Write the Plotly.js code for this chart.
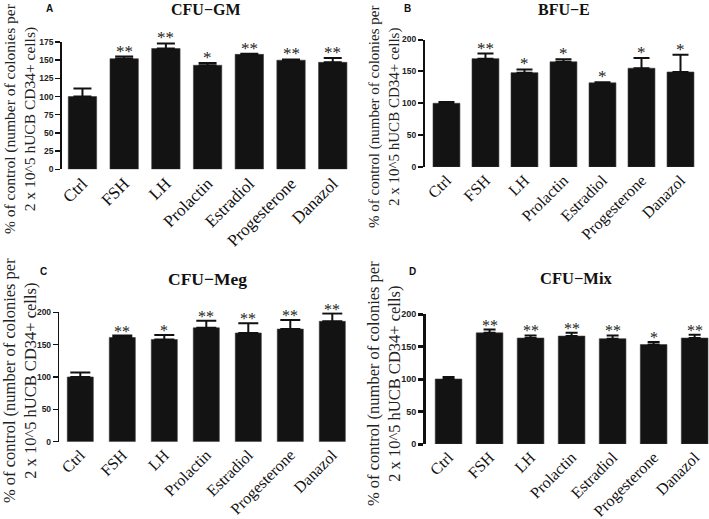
<!DOCTYPE html>
<html>
<head>
<meta charset="utf-8">
<script src="https://cdn.plot.ly/plotly-3.0.1.min.js"></script>
<style>html,body{margin:0;padding:0;background:#fff;}#chart{width:709px;height:519px;}</style>
</head>
<body>
<div id="chart"></div>
<script>
const categories = ['Ctrl','FSH','LH','Prolactin','Estradiol','Progesterone','Danazol'];

const gmMean = [100,152,166,143,158,150,147];
const gmErr = [11,3,7,3,1,1,6];
const gmStars = ['','**','**','*','**','**','**'];

const beMean = [100,170,148,165,132,155,149];
const beErr = [2,8,5,4,1,16,27];
const beStars = ['','**','*','*','*','*','*'];

const megMean = [100,161,158,176,168,174,186];
const megErr = [7,3,7,11,15,14,12];
const megStars = ['','**','*','**','**','**','**'];

const mixMean = [100,171,163,166,162,153,163];
const mixErr = [3,5,4,5,5,4,5];
const mixStars = ['','**','**','**','**','*','**'];

const yTickVals = {
  A: [0,25,50,75,100,125,150,175],
  B: [0,50,100,150,200],
  C: [0,50,100,150,200],
  D: [0,50,100,150,200]
};

const panelTitles = ['CFU\u2212GM','BFU\u2212E','CFU\u2212Meg','CFU\u2212Mix'];
const panelLetters = ['A','B','C','D'];
const yTitleText = '% of control (number of colonies per<br>2 x 10^5 hUCB CD34+ cells)';

const W = 709, H = 519;
const px = v => v / W;
const py = v => 1 - v / H;

const serif = 'Liberation Serif, Times New Roman, serif';
const sans = 'Liberation Sans, Arial, sans-serif';

const panels = [
  {mean: gmMean, err: gmErr, stars: gmStars, ticks: yTickVals.A, yr:[0,175],
   xd:[61.6,353.6], xr:[-0.5,6.5], y0:169.3, yTop:42, bw:0.68, cap:9, lw:1.5, tfs:8.5, sfs:17, xfs:17,
   title:[206,10,16], letter:[49,8], ytitle:[20,119,15.5]},
  {mean: beMean, err: beErr, stars: beStars, ticks: yTickVals.B, yr:[0,200],
   xd:[425,700], xr:[-0.55,6.5], y0:167, yTop:39.5, bw:0.69, cap:8, lw:2, tfs:8.5, sfs:17, xfs:16,
   title:[564,10,16], letter:[407,8], ytitle:[384,117,15]},
  {mean: megMean, err: megErr, stars: megStars, ticks: yTickVals.C, yr:[0,200],
   xd:[59.3,353.3], xr:[-0.5,6.5], y0:441.7, yTop:312.3, bw:0.62, cap:10, lw:1.5, tfs:8.5, sfs:16, xfs:16,
   title:[207,279,17.5], letter:[43,271], ytitle:[20,381,16.5]},
  {mean: mixMean, err: mixErr, stars: mixStars, ticks: yTickVals.D, yr:[0,200],
   xd:[426,709], xr:[-0.55,6.35], y0:444, yTop:314, bw:0.65, cap:6, lw:3, tfs:9, sfs:16, xfs:16,
   title:[576,278,16.5], letter:[412,271], ytitle:[384,384,16.5]}
];

const data = [];
const layout = {
  width: W, height: H,
  margin: {l:0, r:0, t:0, b:0},
  paper_bgcolor: '#ffffff', plot_bgcolor: '#ffffff',
  showlegend: false,
  annotations: []
};

panels.forEach((p, i) => {
  const n = i === 0 ? '' : String(i + 1);
  data.push({
    type: 'bar',
    x: categories,
    y: p.mean,
    width: p.bw,
    xaxis: 'x' + n, yaxis: 'y' + n,
    marker: {color: '#131313', line: {color: '#3a3a3a', width: 0.6}},
    error_y: {type: 'data', symmetric: false, array: p.err, arrayminus: p.mean.map(() => 0),
              color: '#111', thickness: 2, width: p.cap},
    hoverinfo: 'none'
  });
  layout['xaxis' + n] = {
    domain: [px(p.xd[0]), px(p.xd[1])],
    range: p.xr,
    anchor: 'y' + n,
    type: 'category',
    showline: false, showgrid: false, zeroline: false,
    ticks: '',
    tickangle: -45,
    tickfont: {family: serif, size: p.xfs, color: '#111'},
    fixedrange: true
  };
  layout['yaxis' + n] = {
    domain: [py(p.y0), py(p.yTop)],
    range: p.yr,
    anchor: 'x' + n,
    showline: true, linecolor: '#111', linewidth: p.lw,
    showgrid: false, zeroline: false,
    ticks: 'outside', ticklen: 5, tickwidth: p.lw, tickcolor: '#111',
    tickvals: p.ticks,
    tickfont: {family: sans, size: p.tfs, color: '#222', weight: 'bold'},
    fixedrange: true
  };
  p.stars.forEach((s, j) => {
    if (!s) return;
    layout.annotations.push({
      xref: 'x' + n, yref: 'y' + n,
      x: categories[j], y: p.mean[j] + p.err[j],
      text: s, showarrow: false,
      yanchor: 'bottom', yshift: -6,
      font: {family: serif, size: p.sfs, color: '#222'}
    });
  });
  layout.annotations.push({
    xref: 'paper', yref: 'paper',
    x: px(p.title[0]), y: py(p.title[1]),
    text: '<b>' + panelTitles[i] + '</b>', showarrow: false,
    xanchor: 'center', yanchor: 'middle',
    font: {family: serif, size: p.title[2], color: '#111'}
  });
  layout.annotations.push({
    xref: 'paper', yref: 'paper',
    x: px(p.letter[0]), y: py(p.letter[1]),
    text: '<b>' + panelLetters[i] + '</b>', showarrow: false,
    xanchor: 'center', yanchor: 'middle',
    font: {family: sans, size: 10, color: '#111'}
  });
  layout.annotations.push({
    xref: 'paper', yref: 'paper',
    x: px(p.ytitle[0]), y: py(p.ytitle[1]),
    text: yTitleText, showarrow: false, textangle: -90,
    xanchor: 'center', yanchor: 'middle',
    font: {family: serif, size: p.ytitle[2], color: '#222'}
  });
});

Plotly.newPlot('chart', data, layout, {staticPlot: true, displayModeBar: false});
</script>
</body>
</html>
